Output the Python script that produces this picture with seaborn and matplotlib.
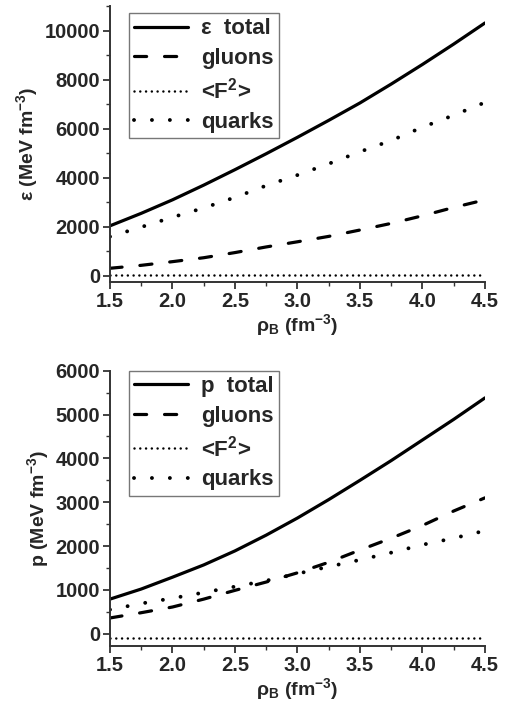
#!/usr/bin/env python3
"""
Energy density and pressure contributions vs baryon density
"""

import numpy as np
import pandas as pd
import matplotlib
matplotlib.use('Agg')
import matplotlib.pyplot as plt
from matplotlib.ticker import MultipleLocator
import seaborn as sns

sns.set_style('ticks')
plt.rcParams['font.family'] = ['Liberation Sans', 'DejaVu Sans']
plt.rcParams['font.weight'] = 'bold'
plt.rcParams['mathtext.fontset'] = 'custom'
plt.rcParams['mathtext.rm'] = 'Liberation Sans:bold'
plt.rcParams['mathtext.default'] = 'rm'

# baryon density (fm^-3)
rho_b = [1.5, 1.75, 2.0, 2.25, 2.5, 2.75, 3.0, 3.25, 3.5, 3.75, 4.0, 4.25, 4.5]

# energy density (MeV fm^-3)
eps_total = [2040, 2550, 3100, 3700, 4330, 4980, 5650, 6340, 7050, 7820, 8620, 9450, 10310]
eps_gluons = [310, 430, 580, 740, 950, 1180, 1390, 1610, 1870, 2140, 2450, 2790, 3100]
eps_f2 = [50, 50, 50, 50, 50, 50, 50, 50, 50, 50, 50, 50, 50]
eps_quarks = [1600, 1990, 2390, 2770, 3200, 3680, 4110, 4570, 5060, 5520, 6060, 6550, 7070]

# pressure (MeV fm^-3)
p_total = [790, 1020, 1290, 1570, 1890, 2250, 2640, 3060, 3500, 3950, 4420, 4890, 5380]
p_gluons = [360, 480, 610, 790, 990, 1180, 1390, 1630, 1910, 2180, 2470, 2800, 3100]
p_f2 = [-100, -100, -100, -100, -100, -100, -100, -100, -100, -100, -100, -100, -100]
p_quarks = [550, 690, 810, 940, 1075, 1210, 1370, 1530, 1685, 1850, 2030, 2180, 2350]

# line styles: (dashes, linewidth) -- round caps everywhere
styles = {
    'total': ('-', 2.3),
    'gluons': ((0, (3.8, 5.6)), 2.3),
    'F2': ((0, (0.01, 2.3)), 1.8),
    'quarks': ((0, (0.01, 4.6)), 2.8),
}


def draw_panel(ax, total, gluons, f2, quarks, total_label, ylabel, ylim, major, minor, leg_top):
    series = [
        ('total', total_label, total),
        ('gluons', 'gluons', gluons),
        ('F2', r'<F$^{2}$>', f2),
        ('quarks', 'quarks', quarks),
    ]
    for key, label, vals in series:
        ls, lw = styles[key]
        df = pd.DataFrame({'x': rho_b, 'y': vals})
        sns.lineplot(data=df, x='x', y='y', ax=ax, color='black', lw=lw,
                     linestyle=ls, label=label, dash_capstyle='round')

    ax.set_xlim(1.5, 4.5)
    ax.set_ylim(*ylim)
    ax.xaxis.set_major_locator(MultipleLocator(0.5))
    ax.xaxis.set_minor_locator(MultipleLocator(0.25))
    ax.yaxis.set_major_locator(MultipleLocator(major))
    ax.yaxis.set_minor_locator(MultipleLocator(minor))
    ax.xaxis.set_major_formatter(plt.FormatStrFormatter('%.1f'))
    ax.tick_params(axis='both', which='major', length=5, width=1.3,
                   labelsize=14.5, direction='out', color='#333333', pad=2)
    ax.tick_params(axis='both', which='minor', length=3, width=1.0,
                   direction='out', color='#333333')
    for lab in ax.get_xticklabels() + ax.get_yticklabels():
        lab.set_fontweight('bold')
    sns.despine(ax=ax)
    for sp in ['left', 'bottom']:
        ax.spines[sp].set_linewidth(1.4)
        ax.spines[sp].set_color('#333333')

    ax.set_xlabel(r'ρ$_{B}$ (fm$^{-3}$)', fontsize=14, fontweight='bold', labelpad=1)
    ax.set_ylabel(ylabel, fontsize=14, fontweight='bold', labelpad=3)

    leg = ax.legend(loc='upper left', bbox_to_anchor=(0.05, leg_top),
                    prop={'weight': 'bold', 'size': 16}, handlelength=2.4,
                    handletextpad=0.6, labelspacing=0.38, borderpad=0.25,
                    frameon=True, fancybox=False, borderaxespad=0)
    leg.get_frame().set_edgecolor('#555555')
    leg.get_frame().set_linewidth(1.0)


fig = plt.figure(figsize=(5.08, 7.10), dpi=100)
ax1 = fig.add_axes([0.2165, 0.6028, 0.7382, 0.3887])
ax2 = fig.add_axes([0.2165, 0.0901, 0.7382, 0.3878])

draw_panel(ax1, eps_total, eps_gluons, eps_f2, eps_quarks, 'ε  total',
           r'ε (MeV fm$^{-3}$)', (-250, 11000), 2000, 1000, 0.975)
draw_panel(ax2, p_total, p_gluons, p_f2, p_quarks, 'p  total',
           r'p (MeV fm$^{-3}$)', (-280, 6000), 1000, 500, 1.0)

fig.savefig('out.png', dpi=100)
